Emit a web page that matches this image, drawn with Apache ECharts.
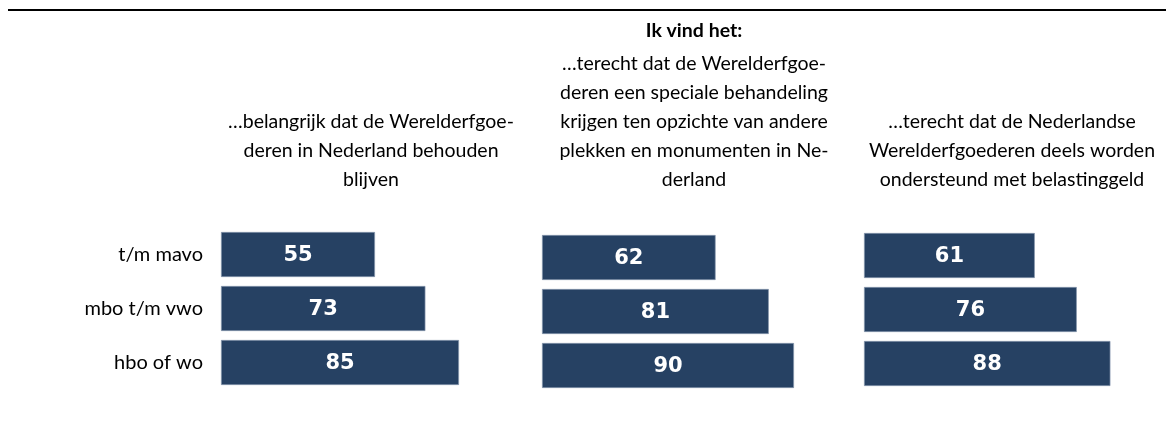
<!DOCTYPE html>
<html>
<head>
<meta charset="utf-8">
<script src="https://cdn.jsdelivr.net/npm/echarts@6/dist/echarts.min.js"></script>
<style>
  html, body { margin:0; padding:0; background:#fff; }
  #chart { width:1166px; height:423px; }
</style>
</head>
<body>
<div id="chart"></div>
<script>
// opleidingsniveau
var categories = ['t/m mavo', 'mbo t/m vwo', 'hbo of wo'];
// percentages per stelling
var belangrijkBehouden = [55, 73, 85];
var terechtSpeciaal = [62, 81, 90];
var terechtBelasting = [61, 76, 88];

var panelTitles = [
  '…belangrijk dat de Werelderfgoe-\nderen in Nederland behouden\nblijven',
  '…terecht dat de Werelderfgoe-\nderen een speciale behandeling\nkrijgen ten opzichte van andere\nplekken en monumenten in Ne-\nderland',
  '…terecht dat de Nederlandse\nWerelderfgoederen deels worden\nondersteund met belastinggeld'
];
var headerText = 'Ik vind het:';

var font = 'Lato, "Open Sans", sans-serif';
var barColor = '#264163';

var chart = echarts.init(document.getElementById('chart'));

var panels = [
  {left: 221, top: 227.5, data: belangrijkBehouden, cx: 371, ty: 107},
  {left: 542, top: 230.5, data: terechtSpeciaal, cx: 694, ty: 49},
  {left: 864, top: 228.5, data: terechtBelasting, cx: 1012, ty: 107}
];

var grids = [], xAxes = [], yAxes = [], series = [], graphics = [];

panels.forEach(function (p, i) {
  grids.push({left: p.left, top: p.top, width: 280, height: 162, containLabel: false});
  xAxes.push({
    type: 'value', gridIndex: i, min: 0, max: 100,
    show: false, splitLine: {show: false}
  });
  yAxes.push({
    type: 'category', gridIndex: i, data: categories, inverse: true,
    axisLine: {show: false}, axisTick: {show: false}, splitLine: {show: false},
    axisLabel: {
      show: i === 0, margin: 18, color: '#000',
      fontFamily: font, fontSize: 20
    }
  });
  series.push({
    type: 'bar', xAxisIndex: i, yAxisIndex: i, data: p.data,
    barWidth: 45,
    itemStyle: {color: barColor, borderColor: '#8797ad', borderWidth: 0.7},
    label: {
      show: true, position: 'inside', color: '#fff', offset: [0, 1.5],
      fontFamily: '"DejaVu Sans", Verdana, sans-serif',
      fontWeight: 'bold', fontSize: 21
    },
    silent: true
  });
  graphics.push({
    type: 'text', x: p.cx, y: p.ty,
    style: {
      text: panelTitles[i], textAlign: 'center', fill: '#000',
      fontFamily: font, fontSize: 19.5, lineHeight: 29
    }
  });
});

graphics.push({
  type: 'text', x: 694, y: 20,
  style: {
    text: headerText, textAlign: 'center', fill: '#000',
    fontFamily: font, fontSize: 19.5, fontWeight: 'bold', lineHeight: 22
  }
});
graphics.push({
  type: 'line', shape: {x1: 8, y1: 10, x2: 1166, y2: 10},
  style: {stroke: '#000', lineWidth: 2}
});

chart.setOption({
  animation: false,
  backgroundColor: '#fff',
  grid: grids,
  xAxis: xAxes,
  yAxis: yAxes,
  series: series,
  graphic: graphics
});
</script>
</body>
</html>
